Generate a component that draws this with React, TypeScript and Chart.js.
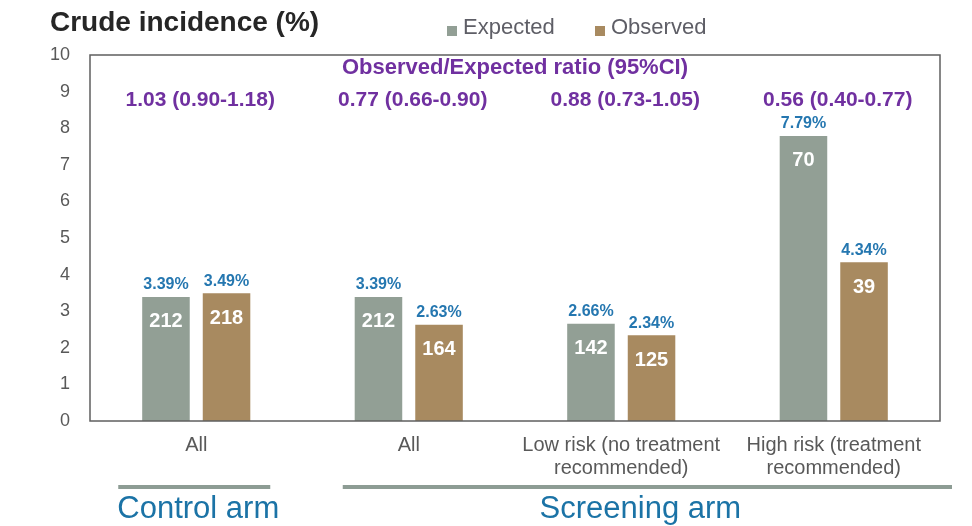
import React, { useEffect, useRef } from "react";
import { Chart, registerables } from "chart.js";

Chart.register(...registerables);

const categories: string[][] = [
  ["All"],
  ["All"],
  ["Low risk (no treatment", "recommended)"],
  ["High risk (treatment", "recommended)"],
];
const expectedPct = [3.39, 3.39, 2.66, 7.79];
const observedPct = [3.49, 2.63, 2.34, 4.34];
const expectedCount = [212, 212, 142, 70];
const observedCount = [218, 164, 125, 39];
const ratioLabels = [
  "1.03 (0.90-1.18)",
  "0.77 (0.66-0.90)",
  "0.88 (0.73-1.05)",
  "0.56 (0.40-0.77)",
];
const seriesNames = ["Expected", "Observed"];
const seriesColors = ["#929F95", "#A88A60"];
const titleText = "Crude incidence (%)";
const ratioHeader = "Observed/Expected ratio (95%CI)";
const armLabels = ["Control arm", "Screening arm"];

const FONT = "'Liberation Sans', Arial, sans-serif";

const overlayPlugin = {
  id: "overlay",
  afterDatasetsDraw(chart: any) {
    const ctx = chart.ctx as CanvasRenderingContext2D;
    const area = chart.chartArea;
    const x = chart.scales.x;
    const y = chart.scales.y;
    ctx.save();

    // plot frame
    ctx.strokeStyle = "#5f5f5f";
    ctx.lineWidth = 1.5;
    ctx.strokeRect(area.left, area.top, area.right - area.left, area.bottom - area.top);

    // title
    ctx.fillStyle = "#262626";
    ctx.font = `bold 28px ${FONT}`;
    ctx.textAlign = "left";
    ctx.textBaseline = "middle";
    ctx.fillText(titleText, 50, 23);

    // legend
    ctx.font = `22px ${FONT}`;
    const legendX = [447, 595];
    seriesNames.forEach((name, i) => {
      ctx.fillStyle = seriesColors[i];
      ctx.fillRect(legendX[i], 26, 10, 10);
      ctx.fillStyle = "#5e5e66";
      ctx.fillText(name, legendX[i] + 16, 28);
    });

    // ratio header and ratios
    ctx.fillStyle = "#7030A0";
    ctx.textAlign = "center";
    ctx.font = `bold 22px ${FONT}`;
    ctx.fillText(ratioHeader, (area.left + area.right) / 2, y.getPixelForValue(9.64));
    ctx.font = `bold 21px ${FONT}`;
    ratioLabels.forEach((t, i) => {
      ctx.fillText(t, x.getPixelForValue(i) + 4, y.getPixelForValue(8.77));
    });

    // bar labels
    const counts = [expectedCount, observedCount];
    const pcts = [expectedPct, observedPct];
    for (let d = 0; d < 2; d++) {
      const meta = chart.getDatasetMeta(d);
      meta.data.forEach((bar: any, i: number) => {
        ctx.fillStyle = "#2577B0";
        ctx.font = `bold 16px ${FONT}`;
        ctx.fillText(pcts[d][i].toFixed(2) + "%", bar.x, bar.y - 12);
        ctx.fillStyle = "#ffffff";
        ctx.font = `bold 20px ${FONT}`;
        ctx.fillText(String(counts[d][i]), bar.x, bar.y + 25);
      });
    }

    // arm brackets
    const lineY = area.bottom + 66;
    const c0 = x.getPixelForValue(0);
    const c1 = x.getPixelForValue(1);
    const segs = [
      [c0 - 78, c0 + 74],
      [c1 - 66, area.right + 12],
    ];
    ctx.strokeStyle = "#8D9C94";
    ctx.lineWidth = 4;
    segs.forEach(([a, b]) => {
      ctx.beginPath();
      ctx.moveTo(a, lineY);
      ctx.lineTo(b, lineY);
      ctx.stroke();
    });
    ctx.fillStyle = "#1B73A6";
    ctx.font = `31px ${FONT}`;
    ctx.fillText(armLabels[0], (segs[0][0] + segs[0][1]) / 2 + 4, area.bottom + 88);
    ctx.fillText(armLabels[1], (segs[1][0] + segs[1][1]) / 2 - 7, area.bottom + 88);

    ctx.restore();
  },
};

export default function App() {
  const ref = useRef<HTMLCanvasElement | null>(null);
  useEffect(() => {
    if (!ref.current) return;
    const chart = new Chart(ref.current, {
      type: "bar",
      data: {
        labels: categories,
        datasets: [
          {
            label: seriesNames[0],
            data: expectedPct,
            backgroundColor: seriesColors[0],
            categoryPercentage: 0.57,
            barPercentage: 0.785,
          },
          {
            label: seriesNames[1],
            data: observedPct,
            backgroundColor: seriesColors[1],
            categoryPercentage: 0.57,
            barPercentage: 0.785,
          },
        ],
      },
      options: {
        animation: false,
        responsive: false,
        maintainAspectRatio: false,
        layout: { padding: { left: 0, top: 55, right: 32, bottom: 45 } },
        plugins: {
          legend: { display: false },
          tooltip: { enabled: false },
          title: { display: false },
        },
        scales: {
          x: {
            grid: { display: false, drawTicks: false },
            border: { display: false },
            ticks: {
              color: "#595959",
              font: { family: FONT, size: 20, lineHeight: 1.15 },
              padding: 13,
              maxRotation: 0,
              autoSkip: false,
            },
            afterFit(scale: any) {
              scale.height = 60;
            },
          },
          y: {
            min: 0,
            max: 10,
            grid: { display: false, drawTicks: false },
            border: { display: false },
            ticks: {
              stepSize: 1,
              color: "#595959",
              font: { family: FONT, size: 18 },
              padding: 20,
            },
            afterFit(scale: any) {
              scale.width = 90;
            },
          },
        },
      },
      plugins: [overlayPlugin],
    });
    return () => chart.destroy();
  }, []);
  return (
    <div style={{ position: "absolute", left: 0, top: 0, width: 972, height: 526, background: "#fff" }}>
      <canvas ref={ref} width={972} height={526} style={{ width: 972, height: 526 }} />
    </div>
  );
}
